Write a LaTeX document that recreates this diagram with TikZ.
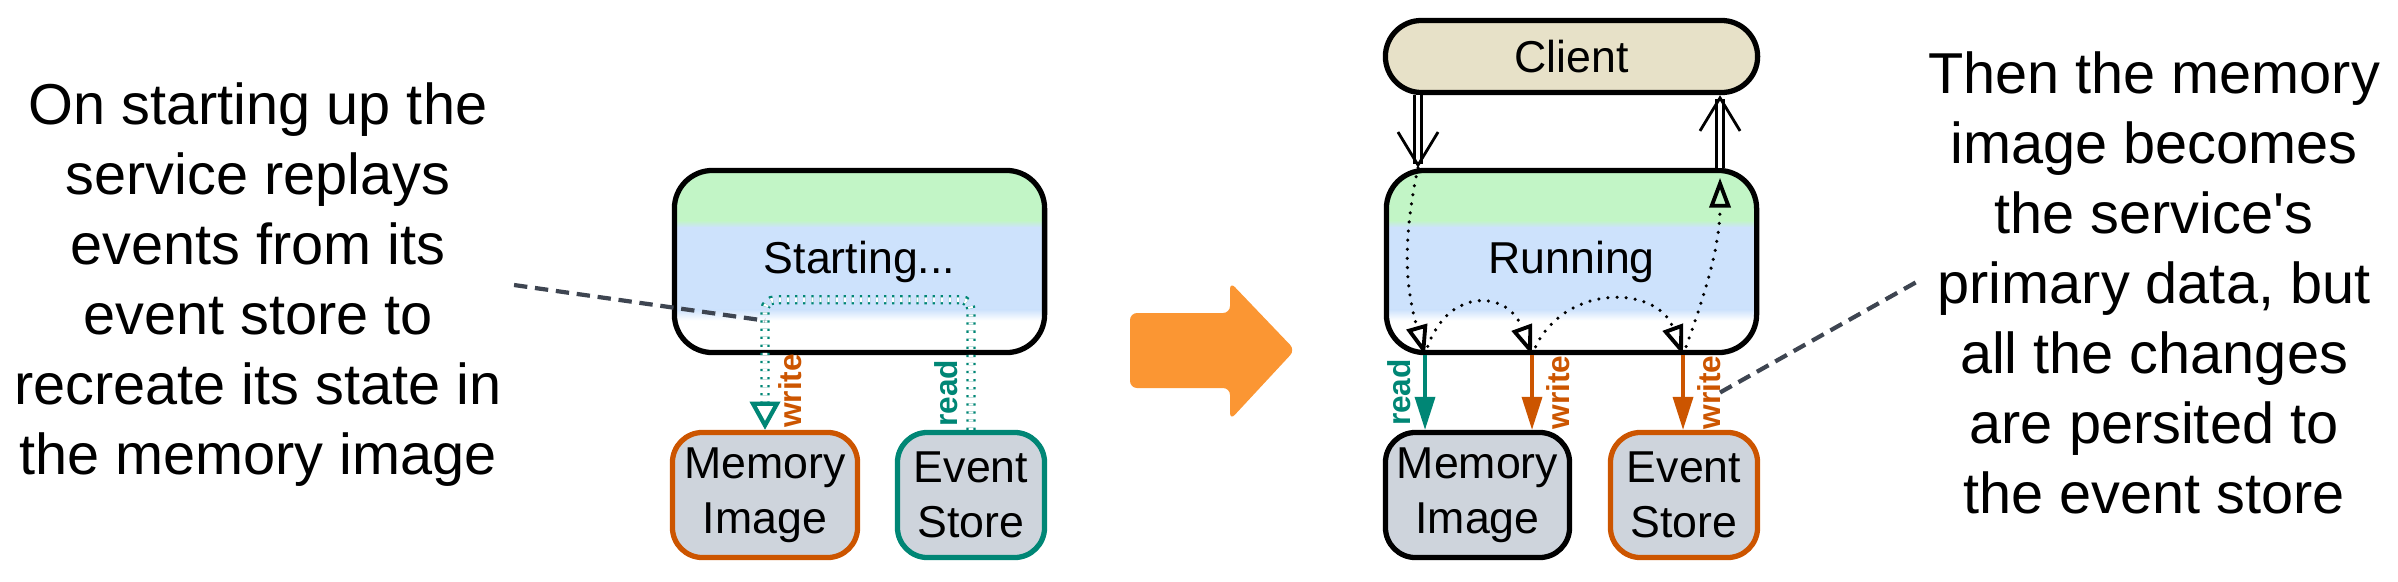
\documentclass[tikz,border=0pt]{standalone}
\usepackage{fontspec}
\setmainfont{Liberation Sans}
\usetikzlibrary{arrows.meta, positioning, calc}
\definecolor{writecolor}{RGB}{204,85,0}
\definecolor{readcolor}{RGB}{0,134,117}
\definecolor{storecolor}{RGB}{206,212,220}
\definecolor{greencolor}{RGB}{194,245,198}
\definecolor{bluecolor}{RGB}{205,226,252}
\definecolor{clientcolor}{RGB}{231,225,200}
\definecolor{stepcolor}{RGB}{251,150,51}
\definecolor{notecolor}{RGB}{62,69,81}

\begin{document}
\begin{tikzpicture}[
    x=0.01cm, y=0.01cm,
    phases/.style={path picture={
        \path (path picture bounding box.north west) coordinate (pnw)
              (path picture bounding box.south east) coordinate (pse);
        \fill[greencolor, sharp corners] (pnw) rectangle ($(pse |- pnw)+(0,-50)$);
        \shade[top color=greencolor, bottom color=bluecolor, sharp corners] ($(pnw)+(0,-50)$) rectangle ($(pse |- pnw)+(0,-57)$);
        \fill[bluecolor, sharp corners] ($(pnw)+(0,-57)$) rectangle ($(pse |- pnw)+(0,-139)$);
        \shade[top color=bluecolor, bottom color=white, sharp corners] ($(pnw)+(0,-139)$) rectangle ($(pse |- pnw)+(0,-150)$);
    }},
    service/.style={draw, line width=1.5pt, rounded corners=0.38cm, minimum width=3.70cm, minimum height=1.82cm, fill=white, phases, font=\fontsize{12.7}{15.6}\selectfont},
    client/.style={draw, line width=1.5pt, rounded corners=0.36cm, minimum width=3.72cm, minimum height=0.72cm, fill=clientcolor, font=\fontsize{12.7}{15.6}\selectfont},
    store/.style={draw, line width=1.5pt, rounded corners=0.3cm, fill=storecolor, minimum height=1.25cm, align=center, inner sep=0pt, font=\fontsize{12.7}{15.6}\selectfont},
    note/.style={align=center, font=\fontsize{16.4}{19.9}\selectfont},
    callout/.style={notecolor, line width=1.2pt, dash pattern=on 3.8pt off 2.2pt},
    rw/.style={font=\bfseries\fontsize{9}{10}\selectfont, rotate=90, inner sep=3.5pt},
    arrow/.style={-{Triangle[length=9.4pt, width=5.7pt]}, line width=1pt},
    replay/.style={readcolor, line width=0.65pt, double=white, double distance=1.35pt, dash pattern=on 0.65pt off 1.65pt, rounded corners=0.1cm, -{Triangle[open, length=8pt, width=8.5pt, line width=1.2pt]}},
    flow/.style={line width=1pt, line cap=round, dash pattern=on 0pt off 2.6pt, -{Triangle[open, length=8.5pt, width=6pt, line width=1.1pt]}},
    request/.style={double, line width=0.7pt, double distance=1.4pt, -{Straight Barb[length=9.4pt, width=11.4pt, line width=0.8pt]}}
]
    \useasboundingbox (0,0) rectangle (2398,581);

    % Starting up
    \node[note] (noteA) at (258,296) {On starting up the\\service replays\\events from its\\event store to\\recreate its state in\\the memory image};
    \node[service] (svcA) at (859.5,319.5) {Starting...};
    \node[store, draw=writecolor, minimum width=1.85cm] (memA) at (765,86) {Memory\\Image};
    \node[store, draw=readcolor, minimum width=1.47cm] (evA) at (971,86) {Event\\Store};

    % Replay of the events
    \draw[replay] (evA.north) -- node[rw, pos=.28, anchor=south, text=readcolor] {read} ++(0,130)
        -| coordinate[pos=.58] (tapA) node[rw, pos=.85, anchor=north, text=writecolor] {write} (memA.north);
    \draw[callout] (noteA.east) -- (tapA);

    % Transition
    \fill[stepcolor, rounded corners=0.07cm] (1130,268) -- (1230,268) -- (1230,299) -- (1295,231)
        -- (1230,161) -- (1230,193) -- (1130,193) -- cycle;

    % Running
    \node[service] (svcB) at (1571.5,319.5) {Running};
    \node[client] (client) at (1571.5,524.5) {Client};
    \node[store, draw=black, minimum width=1.84cm] (memB) at (1477.5,86) {Memory\\Image};
    \node[store, draw=writecolor, minimum width=1.47cm] (evB) at (1684,86) {Event\\Store};
    \node[note] (noteB) at (2154,298.5) {Then the memory\\image becomes\\the service\textquotesingle s\\primary data, but\\all the changes\\are persited to\\the event store};

    \coordinate (inB) at (1418,0 |- svcB.north);
    \coordinate (outB) at (1720,0 |- svcB.north);
    \coordinate (rdB) at (1425,0 |- svcB.south);
    \coordinate (wrB) at (1532,0 |- svcB.south);
    \coordinate (evWrB) at (1683,0 |- svcB.south);

    % Requests
    \draw[request] (inB |- client.south) -- (inB);
    \draw[request] (outB) -- (outB |- client.south);

    % Flow through the service
    \draw[flow] (inB) to[out=-102, in=106] (rdB);
    \draw[flow] (rdB) to[out=75, in=110, looseness=1.7] (wrB);
    \draw[flow] (wrB) to[out=70, in=110, looseness=1.3] (evWrB);
    \draw[flow, shorten >=0.1cm] (evWrB) to[out=70, in=-90] (outB);

    % Reads and writes
    \draw[arrow, readcolor] (rdB) -- node[rw, anchor=south] {read} (rdB |- memB.north);
    \draw[arrow, writecolor] (wrB) -- node[rw, anchor=north] {write} (wrB |- memB.north);
    \draw[arrow, writecolor] (evWrB) -- node[rw, anchor=north] (wrEv) {write} (evWrB |- evB.north);
    \draw[callout] (noteB.west) -- (wrEv.base);
\end{tikzpicture}
\end{document}
